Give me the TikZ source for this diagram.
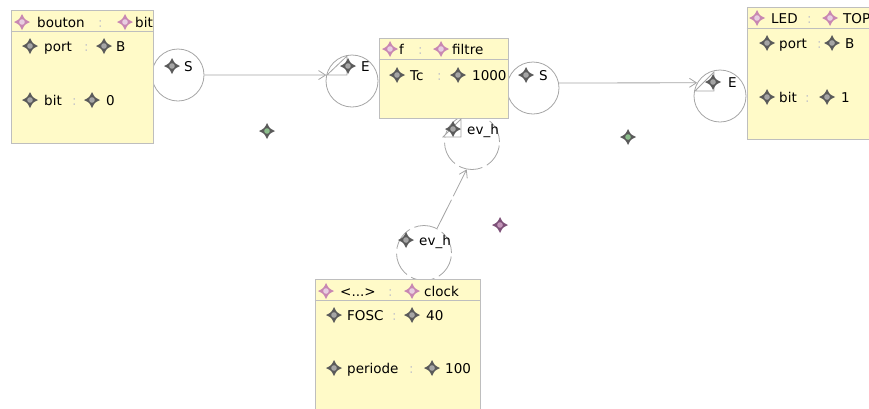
\documentclass[tikz,border=0pt]{standalone}
\usepackage{fontspec}
\setmainfont{DejaVu Sans}
\usetikzlibrary{arrows.meta}
\definecolor{boxfill}{RGB}{255,250,200}
\definecolor{boxline}{RGB}{190,190,190}
\definecolor{circgray}{RGB}{165,165,165}
\definecolor{sepgray}{RGB}{200,200,200}
\definecolor{gemdk}{RGB}{90,90,90}
\definecolor{gemlt}{RGB}{165,165,165}
\definecolor{gempk}{RGB}{200,135,178}
\definecolor{gempkl}{RGB}{232,205,225}
\definecolor{gemgn}{RGB}{140,190,140}
\definecolor{gempu}{RGB}{125,80,120}
\definecolor{gempul}{RGB}{195,150,185}
\tikzset{
  pics/gem/.style 2 args={code={
    \fill[#1] (0,-8) .. controls (2.6,-2.6) .. (8,0) .. controls (2.6,2.6) .. (0,8)
      .. controls (-2.6,2.6) .. (-8,0) .. controls (-2.6,-2.6) .. (0,-8) -- cycle;
    \fill[#2] (0,0) circle (2.8);
  }}
}
\begin{document}
\begin{tikzpicture}[x=1pt, y=-1pt,
  box/.style={draw=boxline, fill=boxfill, line width=1pt, inner sep=0pt},
  port/.style={circle, draw=circgray, line width=0.8pt, minimum size=52pt, inner sep=0pt},
  evport/.style={port, minimum size=55pt, dash pattern=on 24pt off 5pt},
  flag/.style={draw=circgray, fill=white, line width=0.8pt},
  lbl/.style={anchor=base west, inner sep=0pt, yshift=-5pt, text=black, font=\fontsize{13.5}{15}\selectfont},
  sep/.style={lbl, text=sepgray},
  link/.style={draw=circgray, line width=0.8pt, -{Straight Barb[length=7pt, width=9pt]}}]
\useasboundingbox (0,0) rectangle (869,408);
\clip (0,0) rectangle (869,408);

% ports
\node[port] (bS) at (178,75) {};
\node[port] (fE) at (352,81) {};
\node[port] (fS) at (533,88) {};
\node[port] (lE) at (720,96) {};
\node[evport] (fev) at (472,142) {};
\node[evport] (cE) at (424,253) {};

% blocks
\node[box, minimum width=142pt, minimum height=133pt] (bouton) at (82,76.5) {};
\node[box, minimum width=129pt, minimum height=80pt] (filtre) at (443.5,78) {};
\node[box, minimum width=160pt, minimum height=132pt] (led) at (827,73) {};
\node[box, minimum width=165pt, minimum height=150pt] (clock) at (397.5,354) {};
\draw[boxline, line width=1pt] ([yshift=-22pt]bouton.north west) -- ([yshift=-22pt]bouton.north east);
\draw[boxline, line width=1pt] ([yshift=-22pt]filtre.north west) -- ([yshift=-22pt]filtre.north east);
\draw[boxline, line width=1pt] ([yshift=-22pt]led.north west) -- ([yshift=-22pt]led.north east);
\draw[boxline, line width=1pt] ([yshift=-22pt]clock.north west) -- ([yshift=-22pt]clock.north east);

% bouton
\pic at (22,22) {gem={gempk}{gempkl}};
\node[lbl] (boutonname) at (37,22) {bouton};
\node[sep] (boutonsep) at (98,22) {:};
\pic at (125,22) {gem={gempk}{gempkl}};
\node[lbl] (boutontype) at (135,22) {bit};
\pic at (30,46) {gem={gemdk}{gemlt}};
\node[lbl] (bport) at (44,46) {port};
\node[sep] (bportsep) at (84,46) {:};
\pic at (104,46) {gem={gemdk}{gemlt}};
\node[lbl] (bportval) at (116,46) {B};
\pic at (30,100) {gem={gemdk}{gemlt}};
\node[lbl] (bbit) at (44,100) {bit};
\node[sep] (bbitsep) at (72,100) {:};
\pic at (92,100) {gem={gemdk}{gemlt}};
\node[lbl] (bbitval) at (106,100) {0};
\pic at (172,66) {gem={gemdk}{gemlt}};
\node[lbl] (bSname) at (184,66) {S};

% filtre
\draw[flag] (327,75) -- (347,56) -- (347,75) -- cycle;
\pic at (348,66) {gem={gemdk}{gemlt}};
\node[lbl] (fEname) at (361,66) {E};
\pic at (390,49) {gem={gempk}{gempkl}};
\node[lbl] (filtrename) at (399,49) {f};
\node[sep] (filtresep) at (418,49) {:};
\pic at (441,49) {gem={gempk}{gempkl}};
\node[lbl] (filtretype) at (452,49) {filtre};
\pic at (397,75) {gem={gemdk}{gemlt}};
\node[lbl] (ftc) at (410,75) {Tc};
\node[sep] (ftcsep) at (437,75) {:};
\pic at (458,75) {gem={gemdk}{gemlt}};
\node[lbl] (ftcval) at (472,75) {1000};
\pic at (526,75) {gem={gemdk}{gemlt}};
\node[lbl] (fSname) at (539,75) {S};
\draw[flag] (443,137) -- (461,119) -- (461,137) -- cycle;
\pic at (453,129) {gem={gemdk}{gemlt}};
\node[lbl] (fevname) at (467,129) {ev\_h};

% LED
\draw[flag] (695,91) -- (714,72) -- (714,91) -- cycle;
\pic at (713,82) {gem={gemdk}{gemlt}};
\node[lbl] (lEname) at (728,82) {E};
\pic at (757,18) {gem={gempk}{gempkl}};
\node[lbl] (ledname) at (771,18) {LED};
\node[sep] (ledsep) at (807,18) {:};
\pic at (830,18) {gem={gempk}{gempkl}};
\node[lbl] (ledtype) at (843,18) {TOP};
\pic at (767,43) {gem={gemdk}{gemlt}};
\node[lbl] (lport) at (779,43) {port};
\node[sep] (lportsep) at (817,43) {:};
\pic at (832,43) {gem={gemdk}{gemlt}};
\node[lbl] (lportval) at (845,43) {B};
\pic at (767,97) {gem={gemdk}{gemlt}};
\node[lbl] (lbit) at (779,97) {bit};
\node[sep] (lbitsep) at (805,97) {:};
\pic at (827,97) {gem={gemdk}{gemlt}};
\node[lbl] (lbitval) at (841,97) {1};

% clock
\pic at (406,240) {gem={gemdk}{gemlt}};
\node[lbl] (cEname) at (419,240) {ev\_h};
\pic at (326,291) {gem={gempk}{gempkl}};
\node[lbl] (clockname) at (340,291) {<...>};
\node[sep] (clocksep) at (388,291) {:};
\pic at (412,291) {gem={gempk}{gempkl}};
\node[lbl] (clocktype) at (424,291) {clock};
\pic at (334,315) {gem={gemdk}{gemlt}};
\node[lbl] (cfosc) at (347,315) {FOSC};
\node[sep] (cfoscsep) at (392,315) {:};
\pic at (412,315) {gem={gemdk}{gemlt}};
\node[lbl] (cfoscval) at (426,315) {40};
\pic at (334,368) {gem={gemdk}{gemlt}};
\node[lbl] (cper) at (347,368) {periode};
\node[sep] (cpersep) at (409,368) {:};
\pic at (432,368) {gem={gemdk}{gemlt}};
\node[lbl] (cperval) at (445,368) {100};

% loose items
\pic at (267,131) {gem={gemdk}{gemgn}};
\pic at (628,137) {gem={gemdk}{gemgn}};
\pic at (500,225) {gem={gempu}{gempul}};

% links
\draw[link] (bS.east) -- (fE.167);
\draw[link] (fS.11) -- (lE.150);
\draw[link, dash pattern=on 32pt off 4pt] (cE.62) -- (fev.-101);
\end{tikzpicture}
\end{document}
